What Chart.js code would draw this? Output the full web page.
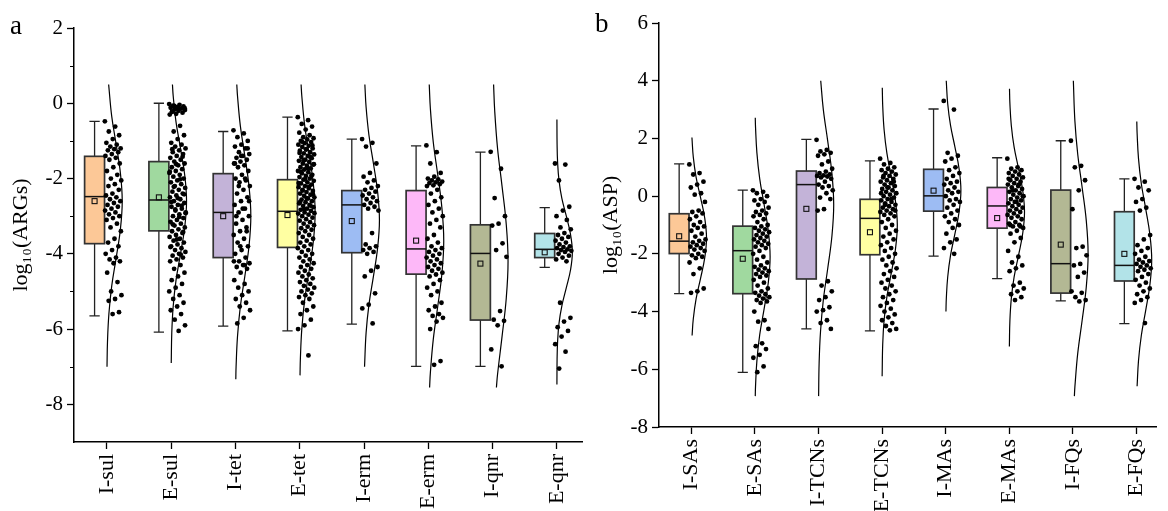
<!DOCTYPE html>
<html>
<head>
<meta charset="utf-8">
<script src="https://cdn.jsdelivr.net/npm/chart.js@4.4.0/dist/chart.umd.min.js"></script>
<style>
body { margin: 0; background: #fff; width: 1168px; height: 511px; overflow: hidden; position: relative; font-family: 'Liberation Serif', 'Times New Roman', serif; }
canvas { position: absolute; top: 0; }
.tag { position: absolute; font-size: 27px; line-height: 27px; color: #000; }
</style>
</head>
<body>
<canvas id="chartA" style="left:0" width="590" height="511"></canvas>
<canvas id="chartB" style="left:590px" width="578" height="511"></canvas>
<div class="tag" style="left:10px;top:12px">a</div>
<div class="tag" style="left:595px;top:10px">b</div>
<script>
// ---- panel a : ARGs ----
const catsA = ['I-sul', 'E-sul', 'I-tet', 'E-tet', 'I-erm', 'E-erm', 'I-qnr', 'E-qnr'];
const hiA   = [-0.48,  0.00, -0.75, -0.37, -0.95, -1.13, -1.30, -2.77];
const q3A   = [-1.41, -1.55, -1.87, -2.03, -2.32, -2.32, -3.23, -3.46];
const medA  = [-2.48, -2.57, -2.90, -2.87, -2.70, -3.87, -3.99, -3.88];
const meanA = [-2.60, -2.50, -3.00, -2.97, -3.13, -3.65, -4.26, -3.96];
const q1A   = [-3.73, -3.39, -4.10, -3.83, -3.97, -4.54, -5.76, -4.10];
const loA   = [-5.65, -6.08, -5.92, -6.05, -5.87, -6.99, -6.99, -4.36];

// raw samples (log10 values) per category
const ptsA = [
  [-0.48,-0.62,-0.75,-0.85,-0.95,-1.05,-1.1,-1.15,-1.2,-1.22,-1.25,-1.3,-1.35,-1.4,-1.45,-1.5,-1.6,-1.7,-1.8,-1.9,-2.0,-2.05,-2.15,-2.2,-2.3,-2.4,-2.45,-2.5,-2.55,-2.6,-2.65,-2.7,-2.75,-2.8,-2.85,-2.9,-2.95,-3.0,-3.05,-3.1,-3.2,-3.3,-3.4,-3.6,-3.7,-3.8,-3.9,-4.0,-4.1,-4.15,-4.2,-4.25,-4.5,-4.75,-5.0,-5.1,-5.2,-5.25,-5.55,-5.6],
  [-0.02,-0.04,-0.06,-0.08,-0.1,-0.12,-0.14,-0.16,-0.18,-0.2,-0.22,-0.25,-0.28,-0.3,-0.6,-0.75,-0.85,-0.95,-1.05,-1.1,-1.15,-1.2,-1.25,-1.3,-1.35,-1.4,-1.45,-1.5,-1.55,-1.6,-1.65,-1.7,-1.75,-1.8,-1.85,-1.9,-1.95,-2.0,-2.05,-2.1,-2.15,-2.2,-2.25,-2.3,-2.35,-2.4,-2.45,-2.5,-2.55,-2.6,-2.65,-2.7,-2.75,-2.8,-2.85,-2.9,-2.95,-3.0,-3.05,-3.1,-3.15,-3.2,-3.25,-3.3,-3.35,-3.4,-3.45,-3.5,-3.55,-3.6,-3.65,-3.7,-3.75,-3.8,-3.85,-3.9,-3.95,-4.0,-4.05,-4.1,-4.15,-4.2,-4.3,-4.4,-4.5,-4.6,-4.7,-4.8,-4.9,-5.0,-5.1,-5.2,-5.3,-5.4,-5.5,-5.6,-5.75,-5.9,-6.05,
   -1.22,-1.42,-1.62,-1.82,-2.02,-2.22,-2.42,-2.52,-2.62,-2.72,-2.82,-2.92,-3.02,-3.22,-3.42,-3.62,-3.82,-4.02,-0.07,-0.13,-0.17,-0.23],
  [-0.72,-0.8,-0.9,-1.0,-1.1,-1.15,-1.2,-1.3,-1.35,-1.4,-1.45,-1.5,-1.55,-1.6,-1.65,-1.7,-1.8,-1.9,-2.0,-2.05,-2.1,-2.2,-2.3,-2.4,-2.5,-2.6,-2.7,-2.8,-2.9,-3.0,-3.1,-3.2,-3.3,-3.4,-3.5,-3.6,-3.7,-3.8,-3.9,-4.0,-4.1,-4.2,-4.25,-4.3,-4.35,-4.4,-4.5,-4.7,-4.8,-4.9,-5.0,-5.1,-5.2,-5.3,-5.4,-5.5,-5.7,-5.85,
   -1.2,-1.4,-1.6,-2.0,-2.2,-2.6,-2.8,-3.0,-3.4,-3.8,-4.2,-4.3],
  [-0.37,-0.45,-0.55,-0.62,-0.7,-0.78,-0.85,-0.9,-0.93,-0.96,-1.0,-1.03,-1.06,-1.1,-1.13,-1.16,-1.2,-1.23,-1.26,-1.3,-1.33,-1.36,-1.4,-1.43,-1.46,-1.5,-1.53,-1.56,-1.6,-1.63,-1.66,-1.7,-1.73,-1.76,-1.8,-1.83,-1.86,-1.9,-1.93,-1.96,-2.0,-2.03,-2.06,-2.1,-2.13,-2.16,-2.2,-2.23,-2.26,-2.3,-2.33,-2.36,-2.4,-2.43,-2.46,-2.5,-2.53,-2.56,-2.6,-2.63,-2.66,-2.7,-2.73,-2.76,-2.8,-2.83,-2.86,-2.9,-2.93,-2.96,-3.0,-3.04,-3.08,-3.12,-3.16,-3.2,-3.24,-3.28,-3.32,-3.36,-3.4,-3.45,-3.5,-3.55,-3.6,-3.65,-3.7,-3.75,-3.8,-3.85,-3.9,-3.95,-4.0,-4.05,-4.1,-4.15,-4.2,-4.25,-4.3,-4.35,-4.4,-4.45,-4.5,-4.55,-4.6,-4.65,-4.7,-4.75,-4.8,-4.85,-4.9,-4.95,-5.0,-5.05,-5.1,-5.15,-5.2,-5.3,-5.4,-5.5,-5.6,-5.75,-5.9,-6.0,-6.7,
   -1.02,-1.12,-1.22,-1.32,-1.42,-1.52,-1.62,-1.72,-1.82,-1.92,-2.02,-2.12,-2.22,-2.32,-2.42,-2.52,-2.62,-2.72,-2.82,-2.92],
  [-0.95,-1.05,-1.15,-1.6,-1.85,-1.95,-2.05,-2.1,-2.2,-2.25,-2.3,-2.35,-2.4,-2.45,-2.5,-2.55,-2.6,-2.65,-2.7,-2.75,-2.8,-2.85,-3.45,-3.75,-3.8,-3.85,-3.9,-3.95,-4.0,-4.35,-4.45,-4.6,-5.05,-5.35,-5.45,-5.85],
  [-1.12,-1.3,-1.6,-1.85,-1.95,-2.0,-2.02,-2.05,-2.08,-2.1,-2.12,-2.15,-2.18,-2.2,-2.3,-2.4,-2.5,-2.6,-2.7,-2.8,-2.9,-3.0,-3.1,-3.2,-3.3,-3.5,-3.6,-3.7,-3.8,-3.85,-3.9,-3.95,-4.0,-4.05,-4.1,-4.15,-4.2,-4.25,-4.3,-4.35,-4.4,-4.45,-4.5,-4.55,-4.6,-4.7,-4.8,-4.9,-5.0,-5.1,-5.3,-5.4,-5.5,-5.6,-5.65,-5.7,-5.8,-6.0,-6.85,-6.95],
  [-1.29,-1.74,-2.52,-3.0,-3.2,-3.25,-3.72,-3.9,-4.08,-5.52,-5.75,-5.78,-5.9,-6.54,-6.99],
  [-1.6,-1.63,-2.05,-2.75,-2.85,-3.0,-3.1,-3.3,-3.35,-3.45,-3.5,-3.55,-3.6,-3.65,-3.7,-3.75,-3.8,-3.82,-3.85,-3.88,-3.9,-3.92,-3.95,-4.0,-4.05,-4.1,-4.15,-4.2,-5.3,-5.7,-5.8,-5.95,-6.05,-6.2,-6.4,-6.6,-7.05]
];

// fitted distribution outline: [value, relative density]
const curveA = [
  [[0.5,0.12],[-0.35,0.32],[-1.1,0.61],[-1.85,0.88],[-2.6,1],[-3.35,0.88],[-4.1,0.61],[-4.85,0.32],[-5.6,0.135],[-6.35,0.044],[-7.0,0.014]],
  [[0.5,0.087],[0.2,0.135],[-0.5,0.32],[-1.2,0.61],[-1.9,0.88],[-2.6,1],[-3.3,0.88],[-4.0,0.61],[-4.7,0.32],[-5.4,0.135],[-6.1,0.044],[-6.9,0.009]],
  [[0.5,0.09],[0.2,0.135],[-0.6,0.32],[-1.4,0.61],[-2.2,0.88],[-3.0,1],[-3.8,0.88],[-4.6,0.61],[-5.4,0.32],[-6.2,0.135],[-7.0,0.044],[-7.33,0.026]],
  [[0.5,0.09],[0.2,0.135],[-0.58,0.32],[-1.35,0.61],[-2.13,0.88],[-2.9,1],[-3.68,0.88],[-4.45,0.61],[-5.23,0.32],[-6.0,0.135],[-6.78,0.044],[-7.23,0.02]],
  [[0.5,0.056],[-0.1,0.135],[-0.85,0.32],[-1.6,0.61],[-2.35,0.88],[-3.1,1],[-3.85,0.88],[-4.6,0.61],[-5.35,0.32],[-6.1,0.135],[-7.0,0.034]],
  [[0.5,0.06],[-0.15,0.135],[-1.03,0.32],[-1.9,0.61],[-2.78,0.88],[-3.65,1],[-4.53,0.88],[-5.4,0.61],[-6.28,0.32],[-7.15,0.135],[-7.55,0.083]],
  [[0.5,0.063],[-0.2,0.135],[-1.2,0.32],[-2.2,0.61],[-3.2,0.88],[-4.2,1],[-5.2,0.88],[-6.2,0.61],[-7.2,0.32],[-7.55,0.246]],
  [[-0.43,0.0],[-1.1,0.011],[-1.57,0.044],[-2.05,0.135],[-2.53,0.32],[-3.0,0.61],[-3.48,0.88],[-3.95,1],[-4.43,0.88],[-4.9,0.61],[-5.38,0.32],[-5.85,0.135],[-6.33,0.044],[-6.8,0.011],[-7.47,0.0]]
];

// ---- panel b : ASP ----
const catsB = ['I-SAs', 'E-SAs', 'I-TCNs', 'E-TCNs', 'I-MAs', 'E-MAs', 'I-FQs', 'E-FQs'];
const hiB   = [ 1.12,  0.21,  1.97,  1.22,  3.02,  1.33,  1.92,  0.60];
const q3B   = [-0.61, -1.04,  0.87, -0.11,  0.93,  0.30,  0.21, -0.54];
const medB  = [-1.56, -1.89,  0.40, -0.77,  0.01, -0.34, -2.34, -2.40];
const meanB = [-1.39, -2.17, -0.44, -1.25,  0.19, -0.76, -1.68, -2.00];
const q1B   = [-1.99, -3.38, -2.87, -2.03, -0.52, -1.11, -3.36, -2.94];
const loB   = [-3.38, -6.11, -4.60, -4.67, -2.08, -2.86, -3.63, -4.42];

const ptsB = [
  [1.1,0.8,0.75,0.5,0.4,0.3,0.1,0.05,-0.2,-0.5,-0.55,-0.6,-0.7,-0.8,-0.9,-1.0,-1.05,-1.1,-1.2,-1.3,-1.4,-1.5,-1.55,-1.6,-1.65,-1.7,-1.75,-1.8,-1.85,-1.9,-2.0,-2.05,-2.1,-2.15,-2.3,-2.5,-2.7,-3.2,-3.3,-3.35],
  [0.2,0.15,0.1,0.0,-0.1,-0.15,-0.2,-0.3,-0.4,-0.5,-0.55,-0.6,-0.65,-0.7,-0.8,-0.9,-1.0,-1.05,-1.1,-1.15,-1.2,-1.25,-1.3,-1.35,-1.4,-1.45,-1.5,-1.55,-1.6,-1.65,-1.7,-1.75,-1.8,-1.9,-2.0,-2.1,-2.2,-2.3,-2.4,-2.45,-2.5,-2.55,-2.6,-2.65,-2.7,-2.75,-2.8,-2.9,-3.0,-3.1,-3.2,-3.3,-3.35,-3.4,-3.45,-3.5,-3.55,-3.6,-3.65,-3.7,-4.0,-4.3,-4.35,-4.6,-5.1,-5.2,-5.3,-5.5,-5.6,-5.9,-6.1],
  [1.95,1.6,1.55,1.5,1.45,1.4,1.2,1.1,0.95,0.85,0.8,0.75,0.72,0.7,0.68,0.65,0.6,0.5,0.4,0.35,0.3,0.2,0.1,-0.05,-0.1,-0.45,-0.5,-2.95,-3.1,-3.3,-3.5,-3.6,-3.85,-3.95,-4.0,-4.3,-4.4,-4.6],
  [1.3,1.15,1.1,1.0,0.95,0.9,0.85,0.8,0.75,0.7,0.65,0.6,0.55,0.5,0.45,0.4,0.35,0.3,0.25,0.2,0.15,0.1,0.05,0.0,-0.05,-0.1,-0.15,-0.2,-0.25,-0.3,-0.35,-0.4,-0.45,-0.5,-0.55,-0.6,-0.65,-0.7,-0.8,-0.9,-1.0,-1.1,-1.2,-1.3,-1.4,-1.5,-1.6,-1.7,-1.8,-1.9,-2.0,-2.1,-2.2,-2.3,-2.4,-2.5,-2.6,-2.7,-2.8,-2.9,-3.0,-3.1,-3.2,-3.3,-3.4,-3.5,-3.6,-3.7,-3.8,-3.9,-4.0,-4.1,-4.2,-4.3,-4.4,-4.5,-4.6,-4.65,
   0.7,0.5,0.3,0.1,-0.1,-0.3,-0.5],
  [3.3,3.0,1.5,1.4,1.3,1.2,1.0,0.9,0.8,0.7,0.6,0.5,0.45,0.4,0.3,0.2,0.15,0.1,0.0,-0.1,-0.15,-0.2,-0.3,-0.4,-0.5,-0.6,-0.7,-0.8,-0.9,-1.0,-1.1,-1.3,-1.5,-1.6,-1.8,-2.0],
  [1.3,1.0,0.95,0.9,0.85,0.8,0.75,0.7,0.65,0.6,0.55,0.5,0.45,0.4,0.35,0.3,0.25,0.2,0.15,0.1,0.05,0.0,-0.05,-0.1,-0.15,-0.2,-0.25,-0.3,-0.35,-0.4,-0.45,-0.5,-0.55,-0.6,-0.65,-0.7,-0.75,-0.8,-0.9,-0.95,-1.0,-1.05,-1.1,-1.2,-1.3,-1.45,-1.6,-1.9,-2.1,-2.3,-2.4,-2.5,-2.6,-3.0,-3.1,-3.2,-3.3,-3.4,-3.5,-3.6,
   0.6,0.4,0.2,0.0,-0.2,-1.0,-1.05],
  [1.92,1.05,1.0,0.55,0.2,-0.45,-1.75,-1.8,-2.05,-2.35,-2.4,-2.65,-2.8,-3.3,-3.35,-3.5,-3.6,-3.65],
  [0.6,0.5,0.3,0.2,-0.1,-0.2,-0.4,-0.5,-1.35,-1.5,-1.7,-1.8,-1.9,-2.0,-2.1,-2.2,-2.25,-2.3,-2.35,-2.4,-2.45,-2.5,-2.55,-2.6,-2.7,-2.8,-2.9,-3.0,-3.1,-3.2,-3.3,-3.4,-3.5,-3.6,-3.7,-4.4]
];

const curveB = [
  [[2.03,0.045],[1.35,0.135],[0.65,0.32],[-0.05,0.61],[-0.75,0.88],[-1.45,1],[-2.15,0.88],[-2.85,0.61],[-3.55,0.32],[-4.25,0.135],[-4.83,0.055]],
  [[2.72,0.028],[2.4,0.044],[1.5,0.135],[0.6,0.32],[-0.3,0.61],[-1.2,0.88],[-2.1,1],[-3.0,0.88],[-3.9,0.61],[-4.8,0.32],[-5.7,0.135],[-6.6,0.044],[-6.93,0.028]],
  [[4.0,0.15],[3.0,0.32],[1.9,0.61],[0.8,0.88],[-0.3,1],[-1.4,0.88],[-2.5,0.61],[-3.6,0.32],[-4.7,0.135],[-5.8,0.044],[-6.93,0.011]],
  [[3.76,0.016],[3.13,0.044],[2.3,0.135],[1.48,0.32],[0.65,0.61],[-0.18,0.88],[-1.0,1],[-1.83,0.88],[-2.65,0.61],[-3.48,0.32],[-4.3,0.135],[-5.13,0.044],[-6.24,0.006]],
  [[4.0,0.04],[3.2,0.135],[2.45,0.32],[1.7,0.61],[0.95,0.88],[0.2,1],[-0.55,0.88],[-1.3,0.61],[-2.05,0.32],[-2.8,0.135],[-3.55,0.044],[-4.0,0.02]],
  [[3.72,0.017],[3.2,0.044],[2.45,0.135],[1.7,0.32],[0.95,0.61],[0.2,0.88],[-0.55,1],[-1.3,0.88],[-2.05,0.61],[-2.8,0.32],[-3.55,0.135],[-4.3,0.044],[-5.21,0.008]],
  [[4.0,0.033],[2.6,0.135],[1.45,0.32],[0.3,0.61],[-0.85,0.88],[-2.0,1],[-3.15,0.88],[-4.3,0.61],[-5.45,0.32],[-6.6,0.135],[-6.93,0.1]],
  [[2.59,0.023],[2.18,0.044],[1.3,0.135],[0.43,0.32],[-0.45,0.61],[-1.33,0.88],[-2.2,1],[-3.08,0.88],[-3.95,0.61],[-4.83,0.32],[-5.7,0.135],[-6.59,0.043]]
];

const boxColors = ['#FCC897', '#A0D99F', '#C3B3D8', '#FFFFA2', '#9DBCF3', '#FDB8F8', '#B3B894', '#B2E3E8'];

Chart.defaults.font.family = "'Liberation Serif', 'Times New Roman', serif";
Chart.defaults.color = '#000';

// box, whiskers, median and mean, drawn left of each category tick
function boxPlugin(stats) {
  return {
    id: 'boxes',
    beforeDatasetsDraw(chart) {
      const { ctx, scales: { x, y } } = chart;
      const unit = x.getPixelForValue(1) - x.getPixelForValue(0);
      const hw = unit * 0.155, cap = unit * 0.08;
      stats.med.forEach((m, i) => {
        const cx = x.getPixelForValue(i - 0.19);
        const pHi = y.getPixelForValue(stats.hi[i]), pLo = y.getPixelForValue(stats.lo[i]);
        const pQ3 = y.getPixelForValue(stats.q3[i]), pQ1 = y.getPixelForValue(stats.q1[i]);
        const pMed = y.getPixelForValue(m), pMean = y.getPixelForValue(stats.mean[i]);
        ctx.save();
        ctx.strokeStyle = '#222';
        ctx.lineWidth = 1.3;
        ctx.beginPath();
        ctx.moveTo(cx, pHi); ctx.lineTo(cx, pQ3);
        ctx.moveTo(cx, pQ1); ctx.lineTo(cx, pLo);
        ctx.moveTo(cx - cap, pHi); ctx.lineTo(cx + cap, pHi);
        ctx.moveTo(cx - cap, pLo); ctx.lineTo(cx + cap, pLo);
        ctx.stroke();
        ctx.fillStyle = boxColors[i];
        ctx.fillRect(cx - hw, pQ3, hw * 2, pQ1 - pQ3);
        ctx.strokeStyle = '#333';
        ctx.lineWidth = 1.7;
        ctx.strokeRect(cx - hw, pQ3, hw * 2, pQ1 - pQ3);
        ctx.strokeStyle = '#111';
        ctx.lineWidth = 1.5;
        ctx.beginPath();
        ctx.moveTo(cx - hw, pMed); ctx.lineTo(cx + hw, pMed);
        ctx.stroke();
        ctx.lineWidth = 1.1;
        ctx.strokeRect(cx - 2.5, pMean - 2.5, 5, 5);
        ctx.restore();
      });
    }
  };
}

// short unlabeled ticks at odd values (panel a only)
const minorTicks = {
  id: 'minorTicks',
  afterDraw(chart) {
    const { ctx, chartArea, scales: { y } } = chart;
    ctx.save();
    ctx.strokeStyle = '#000';
    ctx.lineWidth = 1.2;
    ctx.beginPath();
    for (let v = Math.ceil(y.min); v <= y.max; v++) {
      if (Math.abs(v % 2) !== 1 || v === y.min) continue;
      const py = Math.round(y.getPixelForValue(v)) + 0.5;
      ctx.moveTo(chartArea.left - 4, py);
      ctx.lineTo(chartArea.left, py);
    }
    ctx.stroke();
    ctx.restore();
  }
};

function jitter(k) {
  return -0.03 + 0.26 * ((k * 0.618034) % 1);
}

function makeChart(id, cats, stats, pts, curves, cfg) {
  const datasets = [{
    data: pts.flatMap((arr, i) => arr.map((v, k) => ({ x: i + jitter(k), y: v }))),
    pointRadius: 2.4,
    pointBackgroundColor: '#000',
    pointBorderWidth: 0
  }];
  curves.forEach((c, i) => {
    datasets.push({
      data: c.map(([v, w]) => ({ x: i + 0.24 * w, y: v })),
      showLine: true,
      tension: 0.4,
      borderColor: '#000',
      borderWidth: 1.2,
      pointRadius: 0
    });
  });

  return new Chart(document.getElementById(id), {
    type: 'scatter',
    data: { datasets },
    options: {
      responsive: false,
      animation: false,
      devicePixelRatio: 1,
      layout: { padding: cfg.padding },
      plugins: { legend: { display: false }, tooltip: { enabled: false } },
      scales: {
        x: {
          type: 'linear',
          min: cfg.xMin,
          max: cfg.xMax,
          afterBuildTicks: s => { s.ticks = cats.map((c, i) => ({ value: i })); },
          afterFit: s => { s.height = cfg.xHeight; },
          ticks: {
            autoSkip: false,
            minRotation: 90,
            maxRotation: 90,
            padding: 5,
            font: { size: 22 },
            callback: v => cats[v]
          },
          grid: { drawOnChartArea: false, tickLength: 7, tickWidth: 1.3, tickColor: '#000' },
          border: { color: '#000', width: 1.5 }
        },
        y: {
          min: cfg.yMin,
          max: cfg.yMax,
          afterFit: s => { s.width = cfg.yWidth; },
          ticks: {
            stepSize: cfg.yStep,
            padding: 4,
            font: { size: 21 },
            callback: v => (v % 2 === 0 ? String(v) : '')
          },
          grid: {
            drawOnChartArea: false,
            tickLength: 7,
            tickWidth: 1.3,
            tickColor: c => (c.tick && c.tick.value % 2 !== 0 ? 'rgba(0,0,0,0)' : '#000')
          },
          border: { color: '#000', width: 1.5 },
          title: { display: true, text: cfg.yTitle, font: { size: 22 }, padding: { top: 8, bottom: 0 } }
        }
      }
    },
    plugins: cfg.minor ? [boxPlugin(stats), minorTicks] : [boxPlugin(stats)]
  });
}

makeChart('chartA', catsA,
  { hi: hiA, q3: q3A, med: medA, mean: meanA, q1: q1A, lo: loA }, ptsA, curveA,
  { padding: { left: 0, top: 28, right: 8, bottom: 0 }, xMin: -0.51, xMax: 7.39, xHeight: 69,
    yMin: -9, yMax: 2, yStep: 1, yWidth: 74, yTitle: 'log₁₀(ARGs)', minor: true });

makeChart('chartB', catsB,
  { hi: hiB, q3: q3B, med: medB, mean: meanB, q1: q1B, lo: loB }, ptsB, curveB,
  { padding: { left: 0, top: 23, right: 0, bottom: 0 }, xMin: -0.507, xMax: 7.31, xHeight: 84,
    yMin: -8, yMax: 6, yStep: 2, yWidth: 69, yTitle: 'log₁₀(ASP)', minor: false });
</script>
</body>
</html>
